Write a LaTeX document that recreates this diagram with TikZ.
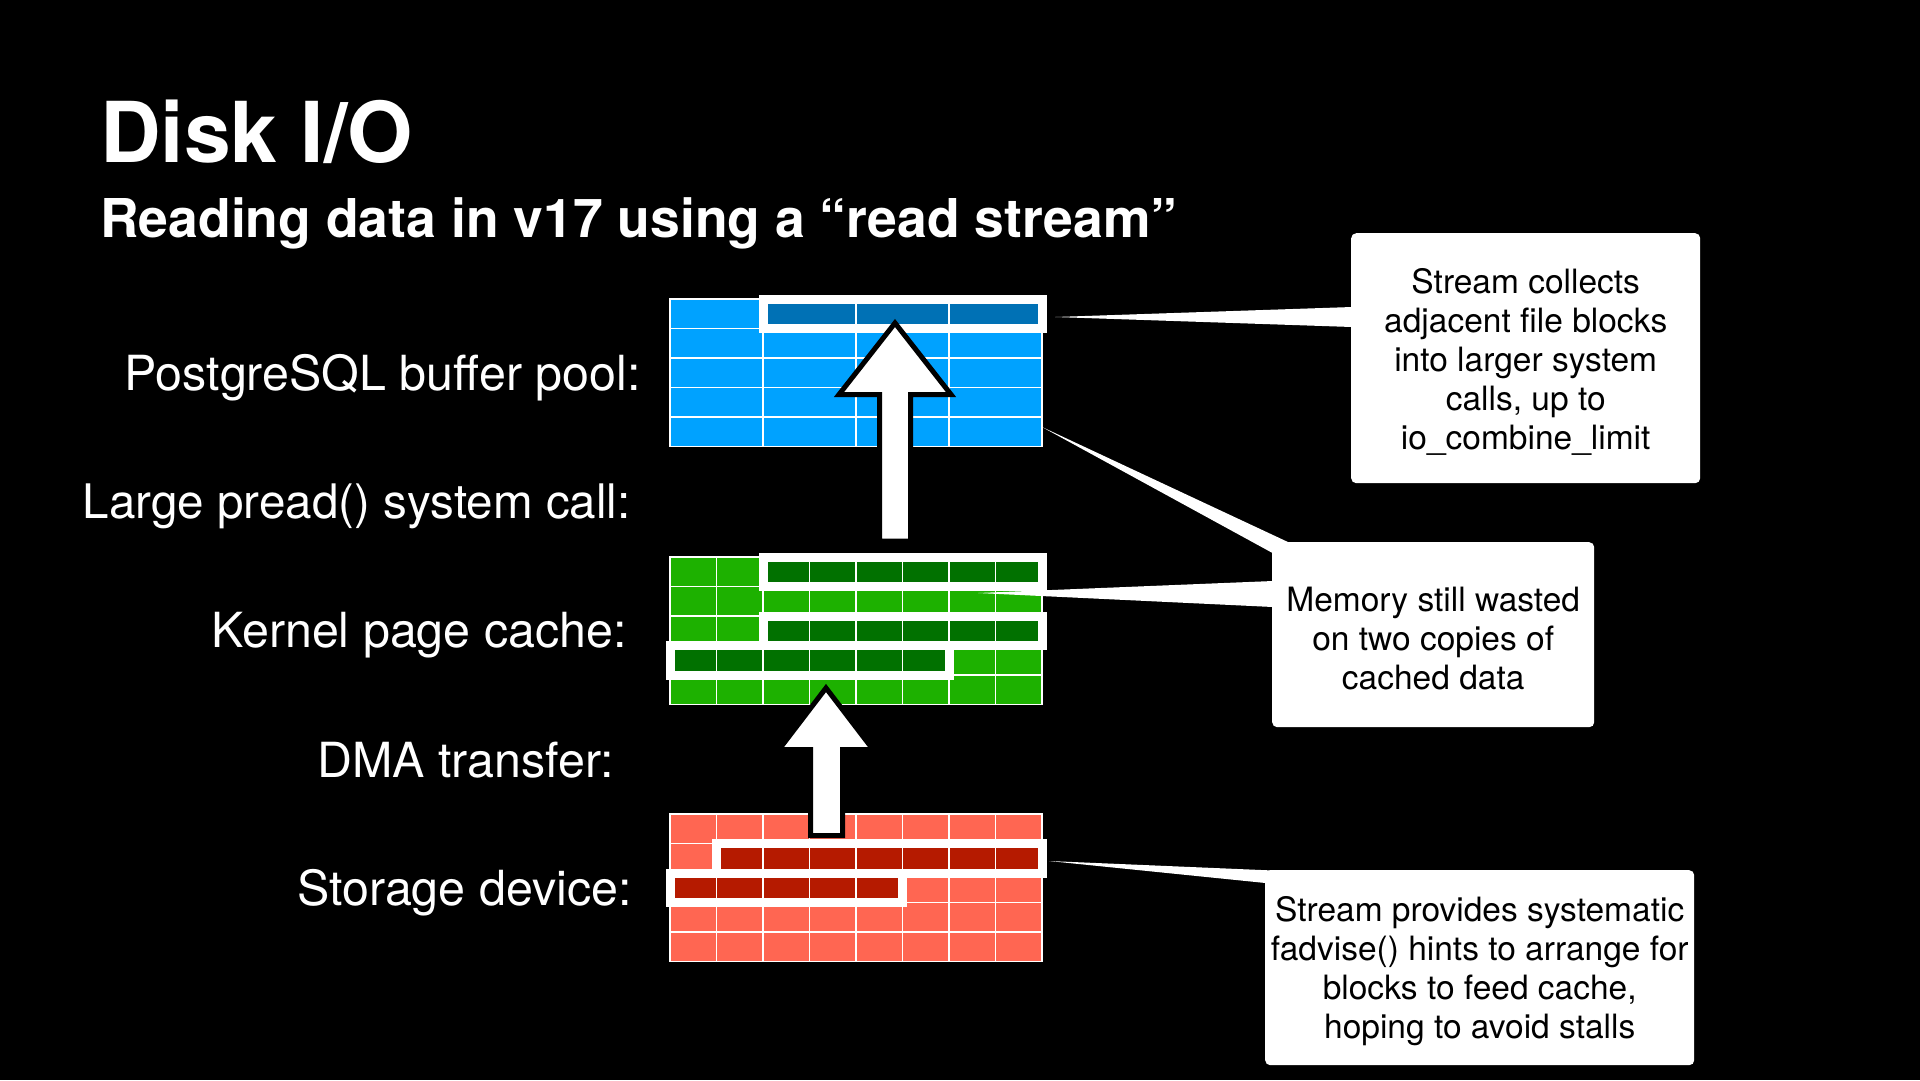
\documentclass[tikz,border=0pt]{standalone}
\usepackage{fontspec}
\setmainfont{TeX Gyre Heros}
\usetikzlibrary{calc}
\definecolor{bluelight}{HTML}{00A2FF}
\definecolor{bluedark}{HTML}{0071B5}
\definecolor{greenlight}{HTML}{1DB100}
\definecolor{greendark}{HTML}{017100}
\definecolor{redlight}{HTML}{FF6652}
\definecolor{reddark}{HTML}{B51A00}
\newcommand\diskgrid[3]{% #1 top, #2 column width, #3 colour
  \fill[#3] (670,#1) rectangle (1042,{#1+147.5});
  \foreach \rowidx in {1,...,4}
    \draw[gridline] (670,{#1+\rowidx*29.5}) -- (1042,{#1+\rowidx*29.5});
  \pgfmathtruncatemacro\ncolsm{round(372/#2)-1}
  \foreach \colidx in {1,...,\ncolsm}
    \draw[gridline] ({670+\colidx*#2},#1) -- ({670+\colidx*#2},{#1+147.5});
  \draw[gridline] (670,#1) rectangle (1042,{#1+147.5});
}
\newcommand\hlframe[4]{% #1 top, #2 row, #3 first col, #4 last col
  \fill[white] ({670+(#3-1)*\gcw-4.5},{#1+(#2-1)*29.5-4.5}) rectangle ({670+#4*\gcw+4.5},{#1+#2*29.5+4.5});
}
\newcommand\hldark[5]{% #5 colour
  \fill[#5] ({670+(#3-1)*\gcw+4.5},{#1+(#2-1)*29.5+4.5}) rectangle ({670+#4*\gcw-4.5},{#1+#2*29.5-4.5});
  \pgfmathtruncatemacro\lastcol{#4-1}
  \foreach \colidx in {#3,...,\lastcol}
    \draw[gridline] ({670+\colidx*\gcw},{#1+(#2-1)*29.5+4.5}) -- ({670+\colidx*\gcw},{#1+#2*29.5-4.5});
}
\begin{document}
\begin{tikzpicture}[x=1pt,y=-1pt,
  lbl/.style={text=white, font=\fontsize{48.4}{56}\selectfont, anchor=base east, inner sep=0pt},
  callout/.style={fill=white, rounded corners=5pt, anchor=north west, inner sep=0pt},
  callouttext/.style={inner sep=0pt, align=center, text=black, font=\fontsize{33.5}{39}\selectfont},
  gridline/.style={draw=white, line width=1.5pt},
  fatarrow/.style={fill=white, draw=black, line width=5pt, line join=miter},
  pointer/.style={fill=white}]
\fill[black] (0,0) rectangle (1920,1080);
\useasboundingbox (0,0) rectangle (1920,1080);

% titles
\node[text=white, anchor=base west, inner sep=0pt, font=\fontsize{84}{90}\bfseries\selectfont] (title) at (100,162) {Disk I/O};
\node[text=white, anchor=base west, inner sep=0pt, font=\fontsize{53.5}{60}\bfseries\selectfont] (subtitle) at (100,237) {Reading data in v17 using a “read stream”};

% labels
\node[lbl] (l1) at (641,390) {PostgreSQL buffer pool:};
\node[lbl, font=\fontsize{47.6}{56}\selectfont] (l2) at (631,518) {Large pread() system call:};
\node[lbl] (l3) at (627,647) {Kernel page cache:};
\node[lbl] (l4) at (614,777) {DMA transfer:};
\node[lbl] (l5) at (632,905) {Storage device:};

% buffer pool grid
\def\gcw{93}
\diskgrid{299}{93}{bluelight}
\hlframe{299}{1}{2}{4}
\hldark{299}{1}{2}{4}{bluedark}

% kernel page cache grid
\def\gcw{46.5}
\diskgrid{557}{46.5}{greenlight}
\hlframe{557}{1}{3}{8}
\hlframe{557}{3}{3}{8}
\hlframe{557}{4}{1}{6}
\hldark{557}{1}{3}{8}{greendark}
\hldark{557}{3}{3}{8}{greendark}
\hldark{557}{4}{1}{6}{greendark}

% storage grid
\diskgrid{814}{46.5}{redlight}
\hlframe{814}{2}{2}{8}
\hlframe{814}{3}{1}{5}
\hldark{814}{2}{2}{8}{reddark}
\hldark{814}{3}{1}{5}{reddark}

% arrows
\draw[fatarrow] (895,323) -- (951,394.5) -- (910.5,394.5) -- (910.5,541) -- (879.5,541) -- (879.5,394.5) -- (839,394.5) -- cycle;
\draw[fatarrow] (826,688) -- (873,749.5) -- (842.5,749.5) -- (842.5,835.5) -- (810.5,835.5) -- (810.5,749.5) -- (779,749.5) -- cycle;

% callouts
\node[callout, minimum width=349pt, minimum height=250pt] (c1) at (1351,233) {};
\node[callouttext] (c1t) at ($(c1.center)+(0,3.5)$)
  {Stream collects\\adjacent file blocks\\into larger system\\calls, up to\\io\_combine\_limit};
\node[callout, minimum width=322pt, minimum height=185pt] (c2) at (1272,542) {};
\node[callouttext] (c2t) at ($(c2.center)+(0,4)$)
  {Memory still wasted\\on two copies of\\cached data};
\node[callout, minimum width=429pt, minimum height=195pt] (c3) at (1265,870) {};
\node[callouttext] (c3t) at ($(c3.center)+(0,3.5)$)
  {Stream provides systematic\\fadvise() hints to arrange for\\blocks to feed cache,\\hoping to avoid stalls};

% pointers
\coordinate (t1) at (1055,317);
\coordinate (t2) at (1042,427);
\coordinate (t3) at (978,593);
\coordinate (t4) at (1049,861);
\fill[pointer] (t1) -- ($(c1.north west)+(1,74)$) -- ($(c1.north west)+(1,94)$) -- cycle;
\fill[pointer] (t2) -- ($(c2.north west)+(17,0.5)$) -- ($(c2.north west)+(0.5,11)$) -- cycle;
\fill[pointer] (t3) -- ($(c2.north west)+(1,39)$) -- ($(c2.north west)+(1,65)$) -- cycle;
\fill[pointer] (t4) -- ($(c3.north west)+(8,0.5)$) -- ($(c3.north west)+(0.5,13)$) -- cycle;
\end{tikzpicture}
\end{document}
